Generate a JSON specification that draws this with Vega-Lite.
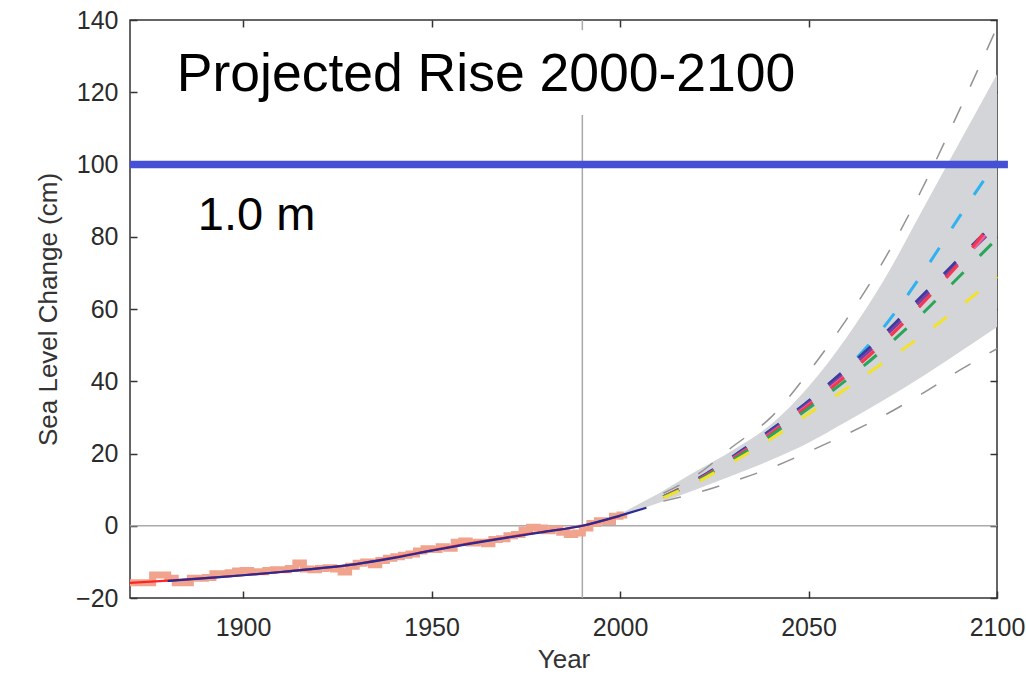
{
  "$schema": "https://vega.github.io/schema/vega-lite/v6.json",
  "width": 867,
  "height": 578,
  "autosize": "none",
  "padding": {"left": 130, "top": 20, "right": 29, "bottom": 77},
  "background": "white",
  "config": {
    "font": "Liberation Sans",
    "view": {"stroke": "#333333", "strokeWidth": 1.5},
    "axis": {
      "grid": false,
      "domain": false,
      "tickSize": -7,
      "tickWidth": 1.5,
      "tickColor": "#333333",
      "labelFont": "Liberation Sans",
      "labelFontSize": 25,
      "labelColor": "#2b2b2b",
      "labelFlush": false,
      "labelOverlap": false,
      "titleFont": "Liberation Sans",
      "titleFontSize": 26,
      "titleFontWeight": "normal",
      "titleColor": "#333333"
    }
  },
  "datasets": {
    "obs": [
      {"year": 1870, "value": -15.8}, {"year": 1872, "value": -15.8}, {"year": 1874, "value": -15.8},
      {"year": 1876, "value": -13.6}, {"year": 1878, "value": -13.6}, {"year": 1880, "value": -14.5},
      {"year": 1882, "value": -15.8}, {"year": 1884, "value": -15.8}, {"year": 1886, "value": -14.5},
      {"year": 1888, "value": -14.5}, {"year": 1890, "value": -14.3}, {"year": 1892, "value": -13.3},
      {"year": 1894, "value": -13.3}, {"year": 1896, "value": -13.0}, {"year": 1898, "value": -12.5},
      {"year": 1900, "value": -12.4}, {"year": 1902, "value": -12.7}, {"year": 1904, "value": -12.7},
      {"year": 1906, "value": -12.4}, {"year": 1908, "value": -12.2}, {"year": 1910, "value": -12.2},
      {"year": 1912, "value": -11.8}, {"year": 1914, "value": -10.3}, {"year": 1916, "value": -12.0},
      {"year": 1918, "value": -12.2}, {"year": 1920, "value": -11.8}, {"year": 1922, "value": -11.6},
      {"year": 1924, "value": -12.0}, {"year": 1926, "value": -12.8}, {"year": 1928, "value": -11.2},
      {"year": 1930, "value": -10.4}, {"year": 1932, "value": -10.0}, {"year": 1934, "value": -10.8},
      {"year": 1936, "value": -9.6}, {"year": 1938, "value": -9.0}, {"year": 1940, "value": -8.6},
      {"year": 1942, "value": -8.2}, {"year": 1944, "value": -7.8}, {"year": 1946, "value": -7.0},
      {"year": 1948, "value": -6.4}, {"year": 1950, "value": -6.6}, {"year": 1952, "value": -5.8},
      {"year": 1954, "value": -6.2}, {"year": 1956, "value": -4.6}, {"year": 1958, "value": -4.2},
      {"year": 1960, "value": -4.8}, {"year": 1962, "value": -4.6}, {"year": 1964, "value": -5.0},
      {"year": 1966, "value": -3.8}, {"year": 1968, "value": -3.6}, {"year": 1970, "value": -2.8},
      {"year": 1972, "value": -2.4}, {"year": 1974, "value": -1.2}, {"year": 1976, "value": -0.4},
      {"year": 1978, "value": -0.6}, {"year": 1980, "value": -1.4}, {"year": 1982, "value": -0.8},
      {"year": 1984, "value": -1.8}, {"year": 1986, "value": -2.4}, {"year": 1988, "value": -2.0},
      {"year": 1990, "value": -0.6}, {"year": 1992, "value": 0.6}, {"year": 1994, "value": 1.4},
      {"year": 1996, "value": 1.2}, {"year": 1998, "value": 2.6}, {"year": 2000, "value": 3.0},
      {"year": 2001, "value": 3.4}
    ],
    "red": [
      {"year": 1870, "value": -15.8}, {"year": 1880, "value": -15.2}, {"year": 1890, "value": -14.5},
      {"year": 1900, "value": -13.7}, {"year": 1910, "value": -12.8}, {"year": 1920, "value": -11.8},
      {"year": 1930, "value": -10.6}, {"year": 1940, "value": -8.8}, {"year": 1950, "value": -6.8},
      {"year": 1960, "value": -4.9}, {"year": 1970, "value": -3.2}, {"year": 1980, "value": -1.6},
      {"year": 1990, "value": 0.0}, {"year": 2000, "value": 2.7}
    ],
    "blue": [
      {"year": 1880, "value": -15.3}, {"year": 1890, "value": -14.5},
      {"year": 1900, "value": -13.7}, {"year": 1910, "value": -12.8}, {"year": 1920, "value": -11.8},
      {"year": 1930, "value": -10.6}, {"year": 1940, "value": -8.9}, {"year": 1950, "value": -6.9},
      {"year": 1960, "value": -5.0}, {"year": 1970, "value": -3.3}, {"year": 1980, "value": -1.7},
      {"year": 1990, "value": 0.0}, {"year": 2000, "value": 2.8}, {"year": 2007, "value": 5.0}
    ],
    "band": [
      {"year": 2001, "lower": 3.3, "upper": 3.8}, {"year": 2005, "lower": 4.5, "upper": 6.0},
      {"year": 2010, "lower": 6.2, "upper": 8.8}, {"year": 2020, "lower": 10.0, "upper": 15.0},
      {"year": 2030, "lower": 14.0, "upper": 21.0}, {"year": 2040, "lower": 18.2, "upper": 28.0},
      {"year": 2050, "lower": 23.0, "upper": 38.5}, {"year": 2060, "lower": 28.8, "upper": 52.0},
      {"year": 2070, "lower": 34.8, "upper": 68.0}, {"year": 2080, "lower": 41.2, "upper": 87.0},
      {"year": 2090, "lower": 48.0, "upper": 106.0}, {"year": 2100, "lower": 55.0, "upper": 125.0}
    ],
    "outer": [
      {"bound": "hi", "year": 2011.5, "value": 9.0}, {"bound": "hi", "year": 2020, "value": 13.8},
      {"bound": "hi", "year": 2030, "value": 22.0}, {"bound": "hi", "year": 2040, "value": 30.0},
      {"bound": "hi", "year": 2050, "value": 42.5}, {"bound": "hi", "year": 2060, "value": 57.0},
      {"bound": "hi", "year": 2070, "value": 73.5}, {"bound": "hi", "year": 2080, "value": 93.0},
      {"bound": "hi", "year": 2090, "value": 115.0}, {"bound": "hi", "year": 2100, "value": 138.0},
      {"bound": "lo", "year": 2011.5, "value": 6.8}, {"bound": "lo", "year": 2020, "value": 9.0},
      {"bound": "lo", "year": 2030, "value": 12.3}, {"bound": "lo", "year": 2040, "value": 16.0},
      {"bound": "lo", "year": 2050, "value": 20.5}, {"bound": "lo", "year": 2060, "value": 25.3},
      {"bound": "lo", "year": 2070, "value": 30.5}, {"bound": "lo", "year": 2080, "value": 36.5},
      {"bound": "lo", "year": 2090, "value": 43.0}, {"bound": "lo", "year": 2100, "value": 49.0}
    ],
    "scen": [
      {"s": "cyan", "year": 2011.5, "value": 8.0}, {"s": "cyan", "year": 2020, "value": 12.6}, {"s": "cyan", "year": 2030, "value": 19.2}, {"s": "cyan", "year": 2040, "value": 26.5}, {"s": "cyan", "year": 2050, "value": 34.5}, {"s": "cyan", "year": 2060, "value": 43.5}, {"s": "cyan", "year": 2070, "value": 55.0}, {"s": "cyan", "year": 2080, "value": 69.5}, {"s": "cyan", "year": 2090, "value": 85.5}, {"s": "cyan", "year": 2100, "value": 101.0},
      {"s": "navy", "year": 2011.5, "value": 8.0}, {"s": "navy", "year": 2020, "value": 12.6}, {"s": "navy", "year": 2030, "value": 19.2}, {"s": "navy", "year": 2040, "value": 26.5}, {"s": "navy", "year": 2050, "value": 34.5}, {"s": "navy", "year": 2060, "value": 43.5}, {"s": "navy", "year": 2070, "value": 53.0}, {"s": "navy", "year": 2080, "value": 63.5}, {"s": "navy", "year": 2090, "value": 74.0}, {"s": "navy", "year": 2100, "value": 84.5},
      {"s": "purple", "year": 2011.5, "value": 8.0}, {"s": "purple", "year": 2020, "value": 12.4}, {"s": "purple", "year": 2030, "value": 18.9}, {"s": "purple", "year": 2040, "value": 26.0}, {"s": "purple", "year": 2050, "value": 34.0}, {"s": "purple", "year": 2060, "value": 42.5}, {"s": "purple", "year": 2070, "value": 52.0}, {"s": "purple", "year": 2080, "value": 62.5}, {"s": "purple", "year": 2090, "value": 73.0}, {"s": "purple", "year": 2100, "value": 83.0},
      {"s": "pink", "year": 2011.5, "value": 8.0}, {"s": "pink", "year": 2020, "value": 12.3}, {"s": "pink", "year": 2030, "value": 18.7}, {"s": "pink", "year": 2040, "value": 25.7}, {"s": "pink", "year": 2050, "value": 33.5}, {"s": "pink", "year": 2060, "value": 41.8}, {"s": "pink", "year": 2070, "value": 51.0}, {"s": "pink", "year": 2080, "value": 61.3}, {"s": "pink", "year": 2090, "value": 72.5}, {"s": "pink", "year": 2100, "value": 84.0},
      {"s": "red", "year": 2011.5, "value": 8.0}, {"s": "red", "year": 2020, "value": 12.3}, {"s": "red", "year": 2030, "value": 18.6}, {"s": "red", "year": 2040, "value": 25.5}, {"s": "red", "year": 2050, "value": 33.2}, {"s": "red", "year": 2060, "value": 41.5}, {"s": "red", "year": 2070, "value": 50.8}, {"s": "red", "year": 2080, "value": 61.3}, {"s": "red", "year": 2090, "value": 72.8}, {"s": "red", "year": 2100, "value": 85.5},
      {"s": "green", "year": 2011.5, "value": 8.0}, {"s": "green", "year": 2020, "value": 12.1}, {"s": "green", "year": 2030, "value": 18.3}, {"s": "green", "year": 2040, "value": 25.0}, {"s": "green", "year": 2050, "value": 32.5}, {"s": "green", "year": 2060, "value": 40.3}, {"s": "green", "year": 2070, "value": 49.0}, {"s": "green", "year": 2080, "value": 58.5}, {"s": "green", "year": 2090, "value": 69.0}, {"s": "green", "year": 2100, "value": 79.5},
      {"s": "yellow", "year": 2011.5, "value": 7.8}, {"s": "yellow", "year": 2020, "value": 11.8}, {"s": "yellow", "year": 2030, "value": 17.7}, {"s": "yellow", "year": 2040, "value": 24.0}, {"s": "yellow", "year": 2050, "value": 31.0}, {"s": "yellow", "year": 2060, "value": 38.0}, {"s": "yellow", "year": 2070, "value": 45.3}, {"s": "yellow", "year": 2080, "value": 52.5}, {"s": "yellow", "year": 2090, "value": 60.5}, {"s": "yellow", "year": 2100, "value": 69.0}
    ]
  },
  "resolve": {"axis": {"x": "independent", "y": "independent"}},
  "layer": [
    {
      "data": {"values": [{"value": 0}]},
      "mark": {"type": "rule", "color": "#a9a9a9", "strokeWidth": 1.5},
      "encoding": {
        "y": {"field": "value", "type": "quantitative", "scale": {"domain": [-20, 140], "nice": false, "zero": false}, "axis": null}
      }
    },
    {
      "data": {"values": [{"year": 1990, "lo": -20, "hi": 113.7}, {"year": 1990, "lo": 137.2, "hi": 140}]},
      "mark": {"type": "rule", "color": "#a9a9a9", "strokeWidth": 1.5},
      "encoding": {
        "x": {"field": "year", "type": "quantitative", "scale": {"domain": [1870, 2100], "nice": false, "zero": false},
              "axis": {"orient": "bottom", "values": [1900, 1950, 2000, 2050, 2100], "format": "d", "title": "Year", "labelPadding": 24, "titlePadding": 6}},
        "y": {"field": "lo", "type": "quantitative", "scale": {"domain": [-20, 140], "nice": false, "zero": false},
              "axis": {"orient": "left", "values": [-20, 0, 20, 40, 60, 80, 100, 120, 140], "title": "Sea Level Change (cm)", "labelPadding": 19, "titlePadding": 14}},
        "y2": {"field": "hi"}
      }
    },
    {
      "data": {"name": "band"},
      "mark": {"type": "area", "color": "#d3d5d9", "interpolate": "monotone"},
      "encoding": {
        "x": {"field": "year", "type": "quantitative", "scale": {"domain": [1870, 2100], "nice": false, "zero": false}, "axis": null},
        "y": {"field": "lower", "type": "quantitative", "scale": {"domain": [-20, 140], "nice": false, "zero": false}, "axis": null},
        "y2": {"field": "upper"}
      }
    },
    {
      "data": {"name": "outer"},
      "mark": {"type": "line", "color": "#939393", "strokeWidth": 1.5, "strokeDash": [18, 22], "interpolate": "monotone"},
      "encoding": {
        "x": {"field": "year", "type": "quantitative", "scale": {"domain": [1870, 2100], "nice": false, "zero": false}, "axis": null},
        "y": {"field": "value", "type": "quantitative", "scale": {"domain": [-20, 140], "nice": false, "zero": false}, "axis": null},
        "detail": {"field": "bound"}
      }
    },
    {
      "data": {"name": "scen"},
      "mark": {"type": "line", "strokeWidth": 3, "strokeDash": [17, 23], "interpolate": "monotone"},
      "encoding": {
        "x": {"field": "year", "type": "quantitative", "scale": {"domain": [1870, 2100], "nice": false, "zero": false}, "axis": null},
        "y": {"field": "value", "type": "quantitative", "scale": {"domain": [-20, 140], "nice": false, "zero": false}, "axis": null},
        "color": {"field": "s", "type": "nominal", "legend": null,
                  "scale": {"domain": ["cyan", "navy", "purple", "pink", "red", "green", "yellow"],
                            "range": ["#2eb2f0", "#3c3c9c", "#7b3fa3", "#f0609a", "#f23a4e", "#2aa55a", "#f2e22a"]}}
      }
    },
    {
      "data": {"name": "obs"},
      "mark": {"type": "line", "color": "#f1a48d", "strokeWidth": 7, "interpolate": "step-after"},
      "encoding": {
        "x": {"field": "year", "type": "quantitative", "scale": {"domain": [1870, 2100], "nice": false, "zero": false}, "axis": null},
        "y": {"field": "value", "type": "quantitative", "scale": {"domain": [-20, 140], "nice": false, "zero": false}, "axis": null}
      }
    },
    {
      "data": {"name": "red"},
      "mark": {"type": "line", "color": "#ff2424", "strokeWidth": 2.2, "interpolate": "monotone"},
      "encoding": {
        "x": {"field": "year", "type": "quantitative", "scale": {"domain": [1870, 2100], "nice": false, "zero": false}, "axis": null},
        "y": {"field": "value", "type": "quantitative", "scale": {"domain": [-20, 140], "nice": false, "zero": false}, "axis": null}
      }
    },
    {
      "data": {"name": "blue"},
      "mark": {"type": "line", "color": "#2a2a95", "strokeWidth": 2.2, "interpolate": "monotone"},
      "encoding": {
        "x": {"field": "year", "type": "quantitative", "scale": {"domain": [1870, 2100], "nice": false, "zero": false}, "axis": null},
        "y": {"field": "value", "type": "quantitative", "scale": {"domain": [-20, 140], "nice": false, "zero": false}, "axis": null}
      }
    },
    {
      "data": {"values": [{"year": 1870, "end": 2102.9, "value": 100}]},
      "mark": {"type": "rule", "color": "#4650d4", "strokeWidth": 7.5, "clip": false},
      "encoding": {
        "x": {"field": "year", "type": "quantitative", "scale": {"domain": [1870, 2100], "nice": false, "zero": false},
              "axis": {"orient": "top", "values": [1900, 1950, 2000, 2050], "labels": false, "title": null}},
        "x2": {"field": "end"},
        "y": {"field": "value", "type": "quantitative", "scale": {"domain": [-20, 140], "nice": false, "zero": false},
              "axis": {"orient": "right", "values": [-20, 0, 20, 40, 60, 80, 100, 120, 140], "labels": false, "title": null}}
      }
    },
    {
      "data": {"values": [{"label": "Projected Rise 2000-2100", "year": 1882.4, "value": 120.4}]},
      "mark": {"type": "text", "align": "left", "baseline": "alphabetic", "fontSize": 53.5, "font": "Liberation Sans", "color": "#000000"},
      "encoding": {
        "x": {"field": "year", "type": "quantitative", "scale": {"domain": [1870, 2100], "nice": false, "zero": false}, "axis": null},
        "y": {"field": "value", "type": "quantitative", "scale": {"domain": [-20, 140], "nice": false, "zero": false}, "axis": null},
        "text": {"field": "label"}
      }
    },
    {
      "data": {"values": [{"label": "1.0 m", "year": 1888.0, "value": 81.9}]},
      "mark": {"type": "text", "align": "left", "baseline": "alphabetic", "fontSize": 47, "font": "Liberation Sans", "color": "#000000"},
      "encoding": {
        "x": {"field": "year", "type": "quantitative", "scale": {"domain": [1870, 2100], "nice": false, "zero": false}, "axis": null},
        "y": {"field": "value", "type": "quantitative", "scale": {"domain": [-20, 140], "nice": false, "zero": false}, "axis": null},
        "text": {"field": "label"}
      }
    }
  ]
}
